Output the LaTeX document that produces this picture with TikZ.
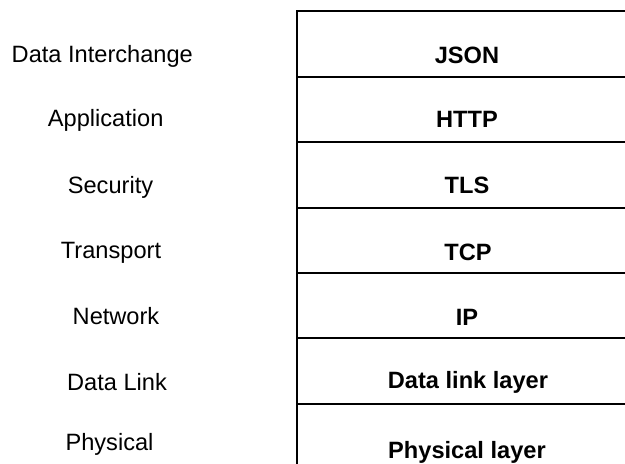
\documentclass[tikz,border=0pt]{standalone}
\usepackage{fontspec}
\setmainfont{Liberation Sans}
\begin{document}
\begin{tikzpicture}[x=1bp,y=-1bp,
  lbl/.style={anchor=base,inner sep=0pt,font=\fontsize{23.7}{28}\selectfont},
  proto/.style={anchor=base,inner sep=0pt,font=\fontsize{23.7}{28}\selectfont\bfseries},
  rule/.style={line width=1.9bp,black}]
\useasboundingbox (0,0) rectangle (625,464);

% protocol stack frame: open on the right and at the bottom
\coordinate (tl) at (296.7,11);
\coordinate (tr) at (625,11);
\coordinate (bl) at (296.7,464);
\draw[rule] (tr) -- (tl) -- (bl);
\foreach \y in {76.7,142.3,207.7,272.8,338.4,404}
  \draw[rule] (296.7,\y) -- (625,\y);

% layer names
\node[lbl] (nDI)  at (102.3,62.7) {Data Interchange};
\node[lbl] (nApp) at (105.7,127)  {Application};
\node[lbl] (nSec) at (110.5,193.3){Security};
\node[lbl] (nTr)  at (111,258.3)  {Transport};
\node[lbl] (nNet) at (116,324)    {Network};
\node[lbl] (nDL)  at (117,390.5)  {Data Link};
\node[lbl] (nPh)  at (109.5,450)  {Physical};

% protocols
\node[proto] (pJSON) at (467,63.3)  {JSON};
\node[proto] (pHTTP) at (467,127.5) {HTTP};
\node[proto] (pTLS)  at (467,193.3) {TLS};
\node[proto] (pTCP)  at (468,261)   {TCP};
\node[proto] (pIP)   at (467,325)   {IP};
\node[proto] (pDL)   at (468,388.3) {Data link layer};
\node[proto] (pPh)   at (467,458)   {Physical layer};
\end{tikzpicture}
\end{document}
